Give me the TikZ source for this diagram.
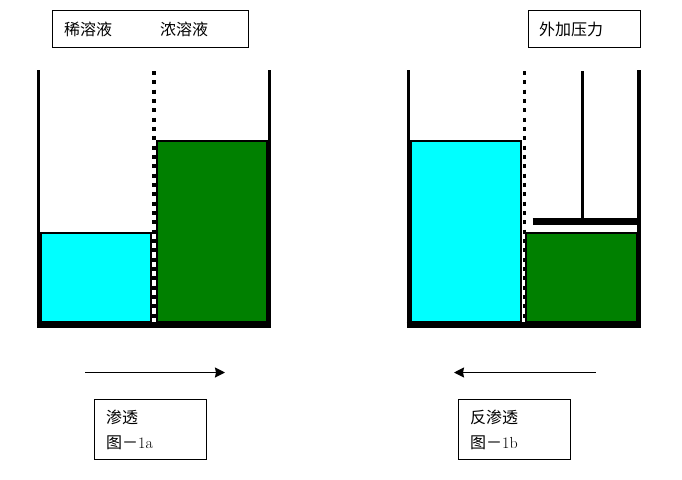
\documentclass[tikz,border=0pt]{standalone}
\usepackage{fontspec}
\usepackage{tikz}
\usetikzlibrary{positioning,arrows.meta}
\newfontfamily\cjk{Noto Sans CJK SC}
\definecolor{dilutecol}{RGB}{0,255,255}
\definecolor{strongcol}{RGB}{0,128,0}
\tikzset{
  wall/.style={line width=3.6pt},
  liquid/.style={draw=black,line width=2pt},
  membrane/.style={line width=#1,dash pattern=on 4pt off 5.33pt},
  flow/.style={line width=1.8pt,-{Stealth[length=10pt,width=10pt,inset=1pt]}},
  labelbox/.style={draw=black,line width=1pt,fill=white,anchor=north west,inner sep=0pt},
  labeltext/.style={inner sep=0pt,align=left,font=\fontsize{16}{25}\selectfont\cjk}
}
\begin{document}
\begin{tikzpicture}[x=1pt,y=-1pt]
\useasboundingbox (0,0) rectangle (682,479);

% left beaker
\coordinate (a1) at (38.5,70);
\coordinate (a2) at (38.5,325);
\coordinate (a3) at (269.5,325);
\coordinate (a4) at (269.5,70);
\draw[liquid,fill=dilutecol] (41,233) rectangle (151,322);
\draw[liquid,fill=strongcol] (156.7,141.3) rectangle (266.7,322);
\draw[wall] (a1) -- (a2);
\draw[wall] (a3) -- (a4);
\draw[line width=6pt] (36.7,325) -- (271.4,325);
\draw[membrane=4pt] (154,71) -- (154,322);

% right beaker
\coordinate (b1) at (408.5,70);
\coordinate (b2) at (408.5,325);
\coordinate (b3) at (639,325);
\coordinate (b4) at (639,70);
\draw[liquid,fill=dilutecol] (411,141.3) rectangle (521,322);
\draw[liquid,fill=strongcol] (526.3,233) rectangle (637,322);
\draw[wall] (b1) -- (b2);
\draw[wall] (b3) -- (b4);
\draw[line width=6pt] (406.7,325) -- (641,325);
\draw[membrane=3pt] (524.5,71) -- (524.5,322);

% piston
\coordinate (p1) at (582.3,71);
\coordinate (p2) at (582.3,221.5);
\draw[line width=3.4pt] (p1) -- (p2);
\draw[line width=7pt] (532.7,221.5) -- (636.5,221.5);

% arrows
\coordinate (f1) at (85,372.5);
\coordinate (f2) at (225,372.5);
\coordinate (r1) at (595.5,372.5);
\coordinate (r2) at (454,372.5);
\draw[flow] (f1) -- (f2);
\draw[flow] (r1) -- (r2);

% labels
\node[labelbox,minimum width=196pt,minimum height=37pt] (solutions) at (52,10) {};
\node[labeltext,right=12pt of solutions.west] (dilute) {稀溶液};
\node[labeltext,right=108pt of solutions.west] (strong) {浓溶液};

\node[labelbox,minimum width=112pt,minimum height=37pt] (pressure) at (528,10) {};
\node[labeltext,right=11pt of pressure.west] (force) {外加压力};

\node[labelbox,minimum width=112pt,minimum height=60pt] (osmosis) at (94,399) {};
\node[labeltext,right=12pt of osmosis.west] (fig1a) {渗透\\图－{\rmfamily 1a}};

\node[labelbox,minimum width=112pt,minimum height=60pt] (reverse) at (458,399) {};
\node[labeltext,right=12pt of reverse.west] (fig1b) {反渗透\\图－{\rmfamily 1b}};

\end{tikzpicture}
\end{document}
